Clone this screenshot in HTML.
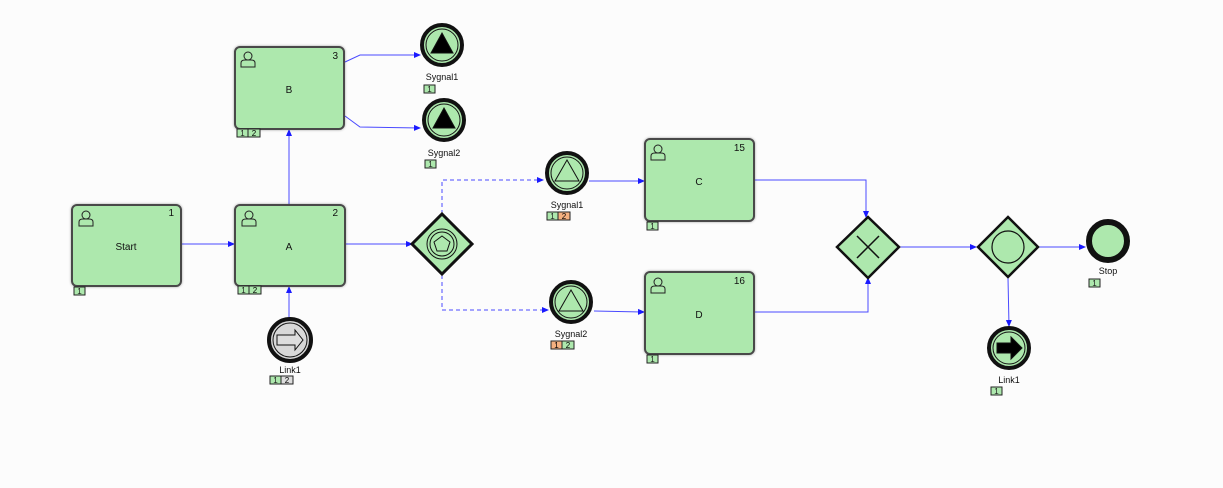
<!DOCTYPE html>
<html><head><meta charset="utf-8"><style>
html,body{margin:0;padding:0;background:#fcfcfc;}
svg{display:block;font-family:"Liberation Sans",sans-serif;}
</style></head><body>
<svg width="1223" height="488" viewBox="0 0 1223 488" xmlns="http://www.w3.org/2000/svg">
<defs>
<marker id="ar" markerWidth="7" markerHeight="7" refX="6" refY="3.5" orient="auto" markerUnits="userSpaceOnUse"><path d="M0,0.5 L7,3.5 L0,6.5 z" fill="#1a1aff"/></marker>
<g id="user"><circle cx="0" cy="-4" r="4" fill="none" stroke="#222" stroke-width="1"/><path d="M-7,7 L-7,3 Q-7,0 -3,0 L3,0 Q7,0 7,3 L7,7 z" fill="none" stroke="#222" stroke-width="1"/></g>
<g id="b1"><rect x="0" y="0" width="11" height="8" fill="#ade8ad" stroke="#222" stroke-width="1"/><text x="5.5" y="7" font-size="8" text-anchor="middle" fill="#222">1</text></g>
<filter id="sh" x="-10%" y="-10%" width="120%" height="120%"><feDropShadow dx="0" dy="0" stdDeviation="1.2" flood-color="#000" flood-opacity="0.35"/></filter>
</defs>

<!-- connectors -->
<g stroke="#4a4aff" stroke-width="1" fill="none">
<line x1="181" y1="244" x2="234" y2="244" marker-end="url(#ar)"/>
<line x1="345" y1="244" x2="412" y2="244" marker-end="url(#ar)"/>
<line x1="289" y1="205" x2="289" y2="130" marker-end="url(#ar)"/>
<line x1="289" y1="318" x2="289" y2="287" marker-end="url(#ar)"/>
<polyline points="345,62 360,55 420,55" marker-end="url(#ar)"/>
<polyline points="345,116 360,127 420,128" marker-end="url(#ar)"/>
<polyline points="442,214 442,180 543,180" stroke-dasharray="4,3" marker-end="url(#ar)"/>
<polyline points="442,275 442,310 548,310" stroke-dasharray="4,3" marker-end="url(#ar)"/>
<line x1="589" y1="181" x2="644" y2="181" marker-end="url(#ar)"/>
<line x1="594" y1="311" x2="644" y2="312" marker-end="url(#ar)"/>
<polyline points="754,180 866,180 866,217" marker-end="url(#ar)"/>
<polyline points="754,312 868,312 868,278" marker-end="url(#ar)"/>
<line x1="899" y1="247" x2="976" y2="247" marker-end="url(#ar)"/>
<line x1="1038" y1="247" x2="1085" y2="247" marker-end="url(#ar)"/>
<line x1="1008" y1="278" x2="1009" y2="326" marker-end="url(#ar)"/>
</g>

<!-- tasks -->
<g stroke="#4a4a4a" stroke-width="2" fill="#ade8ad" filter="url(#sh)">
<rect x="72" y="205" width="109" height="81" rx="5"/>
<rect x="235" y="205" width="110" height="81" rx="5"/>
<rect x="235" y="47" width="109" height="82" rx="5"/>
<rect x="645" y="139" width="109" height="82" rx="5"/>
<rect x="645" y="272" width="109" height="82" rx="5"/>
</g>
<use href="#user" x="86" y="219"/>
<use href="#user" x="249" y="219"/>
<use href="#user" x="248" y="60"/>
<use href="#user" x="658" y="153"/>
<use href="#user" x="658" y="286"/>
<g font-size="10" fill="#111">
<text x="174" y="216" text-anchor="end">1</text>
<text x="338" y="216" text-anchor="end">2</text>
<text x="338" y="59" text-anchor="end">3</text>
<text x="745" y="151" text-anchor="end">15</text>
<text x="745" y="284" text-anchor="end">16</text>
<text x="126" y="250" text-anchor="middle">Start</text>
<text x="289" y="250" text-anchor="middle">A</text>
<text x="289" y="93" text-anchor="middle">B</text>
<text x="699" y="185" text-anchor="middle">C</text>
<text x="699" y="318" text-anchor="middle">D</text>
</g>

<!-- badges -->
<use href="#b1" x="74" y="287"/>
<use href="#b1" x="238" y="286"/><g transform="translate(249,286)"><rect width="12" height="8" fill="#ade8ad" stroke="#222"/><text x="6" y="7" font-size="8" text-anchor="middle">2</text></g>
<use href="#b1" x="237" y="129"/><g transform="translate(248,129)"><rect width="12" height="8" fill="#ade8ad" stroke="#222"/><text x="6" y="7" font-size="8" text-anchor="middle">2</text></g>
<use href="#b1" x="424" y="85"/>
<use href="#b1" x="425" y="160"/>
<use href="#b1" x="647" y="222"/>
<use href="#b1" x="647" y="355"/>
<use href="#b1" x="547" y="212"/><g transform="translate(558,212)"><rect width="12" height="8" fill="#f4b080" stroke="#222"/><text x="6" y="7" font-size="8" text-anchor="middle">2</text></g>
<g transform="translate(551,341)"><rect width="11" height="8" fill="#f4b080" stroke="#222"/><text x="5.5" y="7" font-size="8" text-anchor="middle">1</text></g><g transform="translate(562,341)"><rect width="12" height="8" fill="#ade8ad" stroke="#222"/><text x="6" y="7" font-size="8" text-anchor="middle">2</text></g>
<use href="#b1" x="270" y="376"/><g transform="translate(281,376)"><rect width="12" height="8" fill="#ddd" stroke="#222"/><text x="6" y="7" font-size="8" text-anchor="middle">2</text></g>
<use href="#b1" x="1089" y="279"/>
<use href="#b1" x="991" y="387"/>

<!-- events -->
<g stroke="#111" fill="#ade8ad">
<circle cx="442" cy="45" r="20" stroke-width="4"/><circle cx="442" cy="45" r="16" stroke-width="1"/>
<path d="M442,33 L453,53 L431,53 z" fill="#000"/>
<circle cx="444" cy="120" r="20" stroke-width="4"/><circle cx="444" cy="120" r="16" stroke-width="1"/>
<path d="M444,108 L455,128 L433,128 z" fill="#000"/>
<circle cx="567" cy="173" r="20" stroke-width="4"/><circle cx="567" cy="173" r="16" stroke-width="1"/>
<path d="M567,160 L579,181 L555,181 z" fill="none" stroke-width="1"/>
<circle cx="571" cy="302" r="20" stroke-width="4"/><circle cx="571" cy="302" r="16" stroke-width="1"/>
<path d="M571,290 L583,311 L559,311 z" fill="none" stroke-width="1"/>
<circle cx="290" cy="340" r="21" stroke-width="4" fill="#d8d8d8"/><circle cx="290" cy="340" r="17" stroke-width="1" fill="#d8d8d8"/>
<path d="M277,335 L295,335 L295,330 L303,340 L295,350 L295,345 L277,345 z" fill="#ddd" stroke-width="1"/>
<circle cx="1009" cy="348" r="20" stroke-width="4"/><circle cx="1009" cy="348" r="16" stroke-width="1"/>
<path d="M997,343 L1011,343 L1011,337 L1022,348 L1011,359 L1011,353 L997,353 z" fill="#000"/>
<circle cx="1108" cy="241" r="19" stroke-width="6"/>
</g>
<g font-size="9" fill="#111" text-anchor="middle">
<text x="442" y="80">Sygnal1</text>
<text x="444" y="156">Sygnal2</text>
<text x="567" y="208">Sygnal1</text>
<text x="571" y="337">Sygnal2</text>
<text x="290" y="373">Link1</text>
<text x="1009" y="383">Link1</text>
<text x="1108" y="274">Stop</text>
</g>

<!-- gateways -->
<g stroke="#111" fill="#ade8ad">
<path d="M442,214 L472,244 L442,274 L412,244 z" stroke-width="3"/>
<circle cx="442" cy="244" r="15" stroke-width="1"/><circle cx="442" cy="244" r="12" stroke-width="1"/>
<path d="M442,236 L450,242 L447,251 L437,251 L434,242 z" fill="none" stroke-width="1"/>
<path d="M868,217 L899,247 L868,278 L837,247 z" stroke-width="2.5"/>
<path d="M857,236 L879,258 M879,236 L857,258" stroke-width="1.5"/>
<path d="M1008,217 L1038,247 L1008,277 L978,247 z" stroke-width="2.5"/>
<circle cx="1008" cy="247" r="16" stroke-width="1.2"/>
</g>
</svg>
</body></html>
